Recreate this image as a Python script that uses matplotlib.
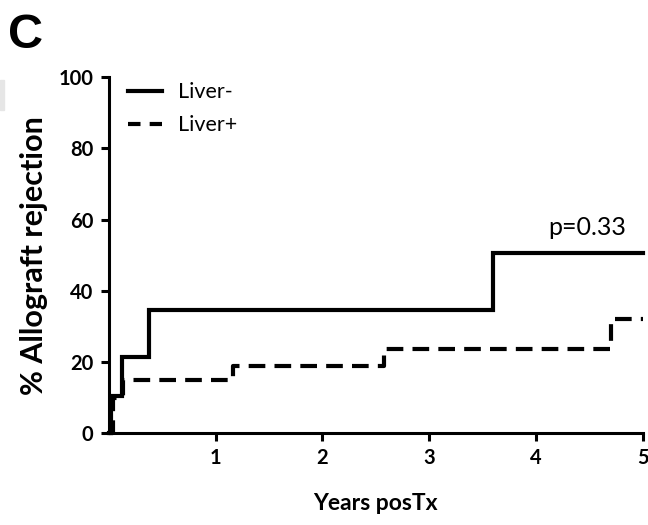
import matplotlib.pyplot as plt
from matplotlib.patches import Rectangle

# cumulative rejection curves (years post-transplant, % rejection)
years_neg = [0, 0.02, 0.12, 0.38, 3.6, 5]
rej_neg = [0, 10.5, 21.3, 34.5, 50.5, 50.5]
years_pos = [0, 0.04, 0.13, 1.16, 2.58, 4.7, 5]
rej_pos = [0, 10, 15, 18.8, 23.7, 32.2, 32.2]

x_ticks = [1, 2, 3, 4, 5]
y_ticks = [0, 20, 40, 60, 80, 100]

fig = plt.figure(figsize=(6.48, 5.25), dpi=100)
ax = fig.add_axes([0.168, 0.175, 0.824, 0.678])

ax.step(years_neg, rej_neg, where='post', color='black', lw=3,
        label='Liver-', clip_on=False, solid_joinstyle='miter')
ax.step(years_pos, rej_pos, where='post', color='black', lw=3,
        dashes=(4, 2.2), label='Liver+', clip_on=False)

ax.set_xlim(0, 5)
ax.set_ylim(0, 100)
ax.set_xticks(x_ticks)
ax.set_yticks(y_ticks)

for s in ['top', 'right']:
    ax.spines[s].set_visible(False)
for s in ['left', 'bottom']:
    ax.spines[s].set_linewidth(2.2)
ax.tick_params(direction='out', length=6, width=2.2, labelsize=14.5, pad=5)
for lbl in ax.get_xticklabels() + ax.get_yticklabels():
    lbl.set_fontweight('bold')
    lbl.set_family('Lato')

ax.set_xlabel('Years posTx', fontsize=16.5, fontweight='bold', family='Lato', labelpad=18)
ax.set_ylabel('% Allograft rejection', fontsize=22, fontweight='bold', family='Lato', labelpad=8)

leg = ax.legend(loc='upper left', frameon=False, handlelength=1.55, handletextpad=0.75,
                labelspacing=0.6, bbox_to_anchor=(0.0, 1.04),
                prop={'family': 'Lato', 'size': 15.5})
# two even dashes in the legend key
leg.get_lines()[1].set_dashes((3, 2.2))

ax.text(4.48, 54.5, 'p=0.33', fontsize=18, family='Lato', ha='center', va='bottom')

fig.text(0.012, 0.975, 'C', fontsize=35, fontweight='bold', family='Liberation Sans',
         ha='left', va='top')
fig.patches.append(Rectangle((0, 0.79), 0.006, 0.058, transform=fig.transFigure,
                             color='#e6e6e6', zorder=0))

fig.savefig('out.png', dpi=100)
